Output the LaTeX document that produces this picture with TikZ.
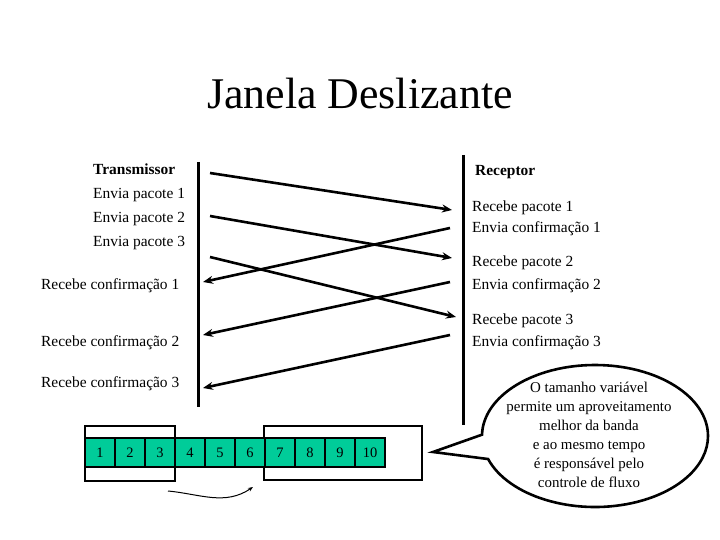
\documentclass[tikz,border=0pt]{standalone}
\usepackage{fontspec}
\setmainfont{Liberation Serif}
\usetikzlibrary{arrows.meta}
\usetikzlibrary{shapes.callouts}
\definecolor{verdecel}{RGB}{0,204,153}

\begin{document}
\begin{tikzpicture}[x=1bp,y=-1bp,
  texto/.style={anchor=base west,inner sep=0pt,font=\fontsize{15.5}{18}\selectfont},
  msg/.style={line width=2.6bp,-{Stealth[length=10bp,width=8bp]}},
  linha/.style={line width=3bp},
  janela/.style={draw,line width=2.6bp},
  celula/.style={draw,line width=2.2bp,fill=verdecel,minimum width=30bp,minimum height=29bp,inner sep=0pt,font=\fontsize{14.5}{16}\selectfont}]
  \useasboundingbox (0,0) rectangle (720,540);
  \node[anchor=base,inner sep=0pt,font=\fontsize{44}{50}\selectfont] (titulo) at (360,109) {Janela Deslizante};
  % linhas do tempo
  \coordinate (tx0) at (198,162);
  \coordinate (tx1) at (198,407);
  \coordinate (rx0) at (463,155);
  \coordinate (rx1) at (463,425);
  \draw[linha] (tx0) -- (tx1);
  \draw[linha] (rx0) -- (rx1);
  % transmissor
  \node[texto,font=\fontsize{15.5}{18}\selectfont\bfseries] (trans) at (93,175) {Transmissor};
  \node[texto] (env1) at (93,199) {Envia pacote 1};
  \node[texto] (env2) at (93,223) {Envia pacote 2};
  \node[texto] (env3) at (93,247) {Envia pacote 3};
  \node[texto] (conf1) at (41,289) {Recebe confirmação 1};
  \node[texto] (conf2) at (41,346) {Recebe confirmação 2};
  \node[texto] (conf3) at (41,387) {Recebe confirmação 3};
  % receptor
  \node[texto,font=\fontsize{15.5}{18}\selectfont\bfseries] (recep) at (475,176) {Receptor};
  \node[texto] (rec1) at (472,212) {Recebe pacote 1};
  \node[texto] (envc1) at (472,233) {Envia confirmação 1};
  \node[texto] (rec2) at (472,267) {Recebe pacote 2};
  \node[texto] (envc2) at (472,289) {Envia confirmação 2};
  \node[texto] (rec3) at (472,324) {Recebe pacote 3};
  \node[texto] (envc3) at (472,346) {Envia confirmação 3};
  % pacotes e confirmacoes
  \coordinate (p1) at (210,173); \coordinate (q1) at (452,210);
  \coordinate (p2) at (210,216); \coordinate (q2) at (452,258);
  \coordinate (p3) at (210,257); \coordinate (q3) at (456,317);
  \coordinate (a1) at (450,228); \coordinate (b1) at (203,282);
  \coordinate (a2) at (450,282); \coordinate (b2) at (203,335);
  \coordinate (a3) at (450,335); \coordinate (b3) at (203,388);
  \foreach \i in {1,2,3} {
    \draw[msg] (p\i) -- (q\i);
    \draw[msg] (a\i) -- (b\i);
  }
  % janelas
  \draw[janela] (85,426) rectangle (175,481);
  \draw[janela] (264,426) rectangle (422,480);
  \foreach \i in {1,...,10}
    \node[celula] (c\i) at ({70+30*\i},452.5) {\i};
  \coordinate (m0) at (168,491);
  \coordinate (m1) at (253,487);
  \draw[line width=1bp,-{Stealth[length=5bp,width=4bp]}] (m0) .. controls (200,494) and (225,506) .. (m1);
  % balao
  \node[ellipse callout,draw,line width=2.6bp,minimum width=226bp,minimum height=142bp,inner sep=0pt,
    callout absolute pointer={(433,452)},callout pointer arc=20] (balao) at (595,436) {};
  \node[align=center,inner sep=0pt,font=\fontsize{15}{19.2}\selectfont] (nota) at (589,435)
    {O tamanho variável\\permite um aproveitamento\\melhor da banda\\e ao mesmo tempo\\é responsável pelo\\controle de fluxo};
\end{tikzpicture}
\end{document}
